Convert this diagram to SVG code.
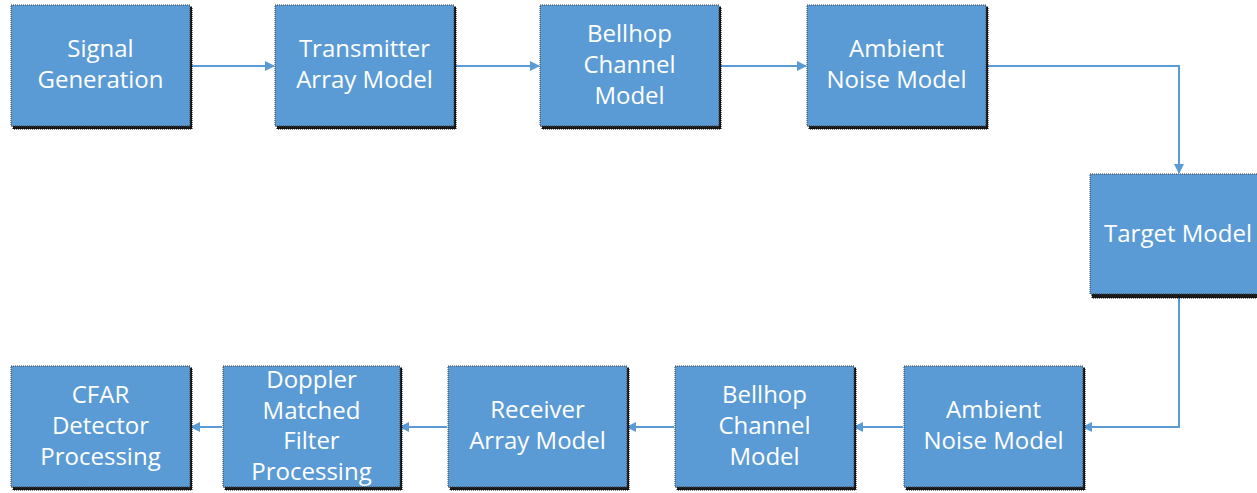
<svg xmlns="http://www.w3.org/2000/svg" width="1257" height="493" viewBox="0 0 1257 493">
<defs>
<style>
.sh{fill:#1a1a1a;stroke:#000;stroke-width:1;stroke-dasharray:1 1}
.bx{fill:#5B9BD5;stroke:#3a3a3a;stroke-width:1;stroke-dasharray:1 1}
.t{font-family:"Open Sans","Noto Sans",sans-serif;font-size:24px;fill:#fff;text-anchor:middle}
.c{fill:none;stroke:#5B9BD5;stroke-width:2}
</style>
<marker id="ah" markerWidth="10" markerHeight="10" refX="9" refY="5" orient="auto" markerUnits="userSpaceOnUse">
<path d="M0,0 L10,5 L0,10 z" fill="#5B9BD5"/>
</marker>
</defs>
<rect width="1257" height="493" fill="#fff"/>
<g id="connectors">
<line class="c" x1="190" y1="66" x2="274" y2="66" marker-end="url(#ah)"/>
<line class="c" x1="454" y1="66" x2="539" y2="66" marker-end="url(#ah)"/>
<line class="c" x1="719" y1="66" x2="806" y2="66" marker-end="url(#ah)"/>
<polyline class="c" points="986,66 1179,66 1179,173" marker-end="url(#ah)"/>
<polyline class="c" points="1179,295 1179,427 1083,427" marker-end="url(#ah)"/>
<line class="c" x1="903" y1="427" x2="854" y2="427" marker-end="url(#ah)"/>
<line class="c" x1="674" y1="427" x2="627" y2="427" marker-end="url(#ah)"/>
<line class="c" x1="447" y1="427" x2="400" y2="427" marker-end="url(#ah)"/>
<line class="c" x1="222" y1="427" x2="191" y2="427" marker-end="url(#ah)"/>
</g>
<g id="n1"><rect class="sh" x="13" y="7" width="179" height="122"/><rect class="bx" x="11" y="5" width="179" height="121"/>
<text class="t" x="100.5" y="57">Signal</text><text class="t" x="100.5" y="88">Generation</text></g>
<g id="n2"><rect class="sh" x="277" y="7" width="179" height="122"/><rect class="bx" x="275" y="5" width="179" height="121"/>
<text class="t" x="364.5" y="57">Transmitter</text><text class="t" x="364.5" y="88">Array Model</text></g>
<g id="n3"><rect class="sh" x="542" y="7" width="179" height="122"/><rect class="bx" x="540" y="5" width="179" height="121"/>
<text class="t" x="629.5" y="42">Bellhop</text><text class="t" x="629.5" y="73">Channel</text><text class="t" x="629.5" y="104">Model</text></g>
<g id="n4"><rect class="sh" x="809" y="7" width="179" height="122"/><rect class="bx" x="807" y="5" width="179" height="121"/>
<text class="t" x="896.5" y="57">Ambient</text><text class="t" x="896.5" y="88">Noise Model</text></g>
<g id="n5"><rect class="sh" x="1092" y="176" width="170" height="122"/><rect class="bx" x="1090" y="174" width="170" height="120"/>
<text class="t" x="1178" y="242">Target Model</text></g>
<g id="n6"><rect class="sh" x="906" y="368" width="179" height="122"/><rect class="bx" x="904" y="366" width="179" height="121"/>
<text class="t" x="993.5" y="418">Ambient</text><text class="t" x="993.5" y="449">Noise Model</text></g>
<g id="n7"><rect class="sh" x="677" y="368" width="179" height="122"/><rect class="bx" x="675" y="366" width="179" height="121"/>
<text class="t" x="764.5" y="403">Bellhop</text><text class="t" x="764.5" y="434">Channel</text><text class="t" x="764.5" y="465">Model</text></g>
<g id="n8"><rect class="sh" x="450" y="368" width="179" height="122"/><rect class="bx" x="448" y="366" width="179" height="121"/>
<text class="t" x="537.5" y="418">Receiver</text><text class="t" x="537.5" y="449">Array Model</text></g>
<g id="n9"><rect class="sh" x="225" y="368" width="177" height="122"/><rect class="bx" x="223" y="366" width="177" height="121"/>
<text class="t" x="311.5" y="388">Doppler</text><text class="t" x="311.5" y="418.5">Matched</text><text class="t" x="311.5" y="449">Filter</text><text class="t" x="311.5" y="479.5">Processing</text></g>
<g id="n10"><rect class="sh" x="13" y="368" width="179" height="122"/><rect class="bx" x="11" y="366" width="179" height="121"/>
<text class="t" x="100.5" y="403">CFAR</text><text class="t" x="100.5" y="434">Detector</text><text class="t" x="100.5" y="465">Processing</text></g>
</svg>
